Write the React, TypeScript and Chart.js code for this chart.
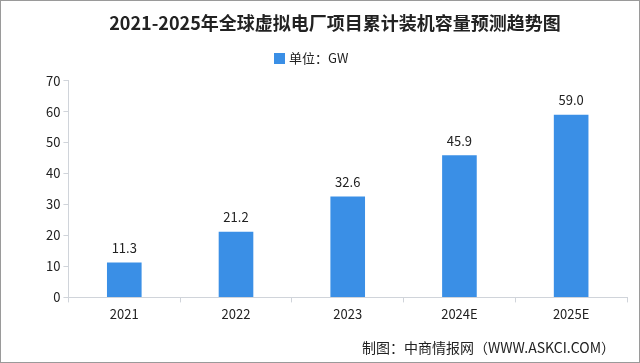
import React, { useEffect, useRef } from "react";
import { Chart, registerables } from "chart.js";

Chart.register(...registerables);

const categories = ["2021", "2022", "2023", "2024E", "2025E"];
const capacityGW = [11.3, 21.2, 32.6, 45.9, 59.0];
const yTicks = [0, 10, 20, 30, 40, 50, 60, 70];
const titleText = "2021-2025年全球虚拟电厂项目累计装机容量预测趋势图";
const seriesLabel = "单位：GW";
const sourceText = "制图：中商情报网（WWW.ASKCI.COM）";

const FONT = "'Noto Sans CJK SC', 'DejaVu Sans', sans-serif";
const BAR = "#3a8fe6";

export default function App() {
  const ref = useRef<HTMLCanvasElement | null>(null);
  useEffect(() => {
    if (!ref.current) return;
    const legendPlugin = {
      id: "customLegend",
      afterDraw(chart: any) {
        const ctx = chart.ctx;
        const ds = chart.data.datasets[0];
        ctx.save();
        ctx.fillStyle = ds.backgroundColor;
        ctx.fillRect(273, 52, 11, 11);
        ctx.font = `13px ${FONT}`;
        ctx.fillStyle = "#222";
        ctx.textAlign = "left";
        ctx.textBaseline = "middle";
        ctx.fillText(ds.label, 288, 57.5);
        ctx.restore();
      },
    };
    const labelPlugin = {
      id: "valueLabels",
      afterDatasetsDraw(chart: any) {
        const ctx = chart.ctx;
        const meta = chart.getDatasetMeta(0);
        ctx.save();
        ctx.font = `13px ${FONT}`;
        ctx.fillStyle = "#222";
        ctx.textAlign = "center";
        ctx.textBaseline = "bottom";
        meta.data.forEach((el: any, i: number) => {
          ctx.fillText(capacityGW[i].toFixed(1), el.x, el.y - 8);
        });
        ctx.restore();
      },
    };
    const sourcePlugin = {
      id: "sourceText",
      afterDraw(chart: any) {
        const ctx = chart.ctx;
        ctx.save();
        ctx.font = `14px ${FONT}`;
        ctx.fillStyle = "#222";
        ctx.textAlign = "right";
        ctx.textBaseline = "middle";
        ctx.fillText(sourceText, 614, 347);
        ctx.restore();
      },
    };
    const chart = new Chart(ref.current, {
      type: "bar",
      data: {
        labels: categories,
        datasets: [
          {
            label: seriesLabel,
            data: capacityGW,
            backgroundColor: BAR,
            borderWidth: 0,
            barPercentage: 0.31,
            categoryPercentage: 1,
          },
        ],
      },
      options: {
        animation: false,
        responsive: false,
        maintainAspectRatio: false,
        layout: { padding: { left: 42, right: 12, top: 0, bottom: 36 } },
        plugins: {
          title: {
            display: true,
            text: titleText,
            color: "#222",
            font: { family: FONT, size: 18, weight: "bold" },
            padding: { top: 11, bottom: 47 },
          },
          legend: { display: false },
          tooltip: { enabled: false },
        },
        scales: {
          x: {
            offset: true,
            grid: {
              display: true,
              offset: true,
              drawOnChartArea: false,
              drawTicks: true,
              tickLength: 5,
              color: "#d0d4da",
            },
            border: { display: true, color: "#d0d4da" },
            ticks: { color: "#222", font: { family: FONT, size: 13 }, padding: 4 },
          },
          y: {
            min: 0,
            max: 70,
            afterBuildTicks(axis: any) {
              axis.ticks = yTicks.map((v) => ({ value: v }));
            },
            grid: {
              display: true,
              drawOnChartArea: false,
              drawTicks: true,
              tickLength: 5,
              color: "#d0d4da",
            },
            border: { display: true, color: "#d0d4da" },
            ticks: { color: "#222", font: { family: FONT, size: 13 }, padding: 3 },
          },
        },
      },
      plugins: [legendPlugin, labelPlugin, sourcePlugin],
    } as any);
    return () => chart.destroy();
  }, []);
  return (
    <div
      style={{
        position: "absolute",
        left: 0,
        top: 0,
        width: 640,
        height: 363,
        boxSizing: "border-box",
        border: "1px solid #9a9a9a",
        background: "#fff",
        overflow: "hidden",
      }}
    >
      <canvas ref={ref} width={638} height={361} style={{ display: "block" }} />
    </div>
  );
}
